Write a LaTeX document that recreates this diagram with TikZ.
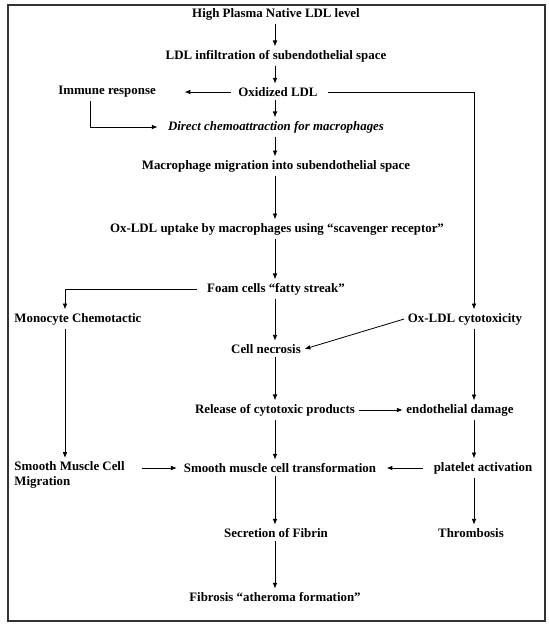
\documentclass[tikz,border=0pt]{standalone}
\usepackage{fontspec}
\setmainfont{Liberation Serif}
\usepackage{tikz}
\usetikzlibrary{arrows.meta}

\begin{document}
\begin{tikzpicture}[
				stage/.style={font=\fontsize{11}{13}\selectfont\bfseries, inner sep=3pt},
				emphstage/.style={stage, font=\fontsize{11}{13}\selectfont\bfseries\itshape},
				arr/.style={-{Latex[length=5pt,width=4pt]}, line width=0.7pt},
				frame/.style={line width=0.9pt, draw=black!80}
			]
			\useasboundingbox (0,0) rectangle (16.44,-18.84);
			% Frame
			\draw[frame] (0.24,-0.15) rectangle (16.35,-18.63);
			% Columns
			\coordinate (lc) at (1.95,0);
			\coordinate (mc) at (8.25,0);
			\coordinate (rc) at (14.22,0);
			\coordinate (ic) at (2.70,0);
			% Main column
			\node[stage] (high) at (8.28,-0.42) {High Plasma Native LDL level};
			\node[stage] (infil) at (8.28,-1.68) {LDL infiltration of subendothelial space};
			\node[stage] (oxid) at (8.34,-2.76) {Oxidized LDL};
			\node[emphstage] (direct) at (8.28,-3.81) {Direct chemoattraction for macrophages};
			\node[stage] (migr) at (8.28,-4.98) {Macrophage migration into subendothelial space};
			\node[stage] (uptake) at (8.31,-6.87) {Ox-LDL uptake by macrophages using ``scavenger receptor''};
			\node[stage] (foam) at (8.28,-8.67) {Foam cells ``fatty streak''};
			\node[stage] (necro) at (7.98,-10.47) {Cell necrosis};
			\node[stage] (release) at (8.25,-12.30) {Release of cytotoxic products};
			\node[stage] (trans) at (8.40,-14.04) {Smooth muscle cell transformation};
			\node[stage] (secr) at (8.28,-15.99) {Secretion of Fibrin};
			\node[stage] (fibro) at (8.25,-17.91) {Fibrosis ``atheroma formation''};
			% Left column
			\node[stage] (immune) at (3.21,-2.76) {Immune response};
			\node[stage, anchor=west] (mono) at (0.32,-9.57) {Monocyte Chemotactic};
			\node[stage, anchor=north west, align=left] (smcm) at (0.32,-13.74) {Smooth Muscle Cell\\Migration};
			% Right column
			\node[stage] (cyto) at (13.95,-9.57) {Ox-LDL cytotoxicity};
			\node[stage] (endo) at (13.80,-12.30) {endothelial damage};
			\node[stage] (plate) at (14.49,-14.04) {platelet activation};
			\node[stage] (thromb) at (14.13,-15.99) {Thrombosis};
			% Vertical arrows
			\foreach \a/\b in {high/infil, infil/oxid, oxid/direct, direct/migr, migr/uptake, uptake/foam, foam/necro, necro/release, release/trans, trans/secr, secr/fibro}
				\draw[arr] (\a.south -| mc) -- (\b.north -| mc);
			\foreach \a/\b in {cyto/endo, endo/plate, plate/thromb}
				\draw[arr] (\a.south -| rc) -- (\b.north -| rc);
			\draw[arr] (mono.south -| lc) -- (smcm.north -| lc);
			% Side branches
			\draw[arr, shorten <=0.1cm, shorten >=0.75cm] (oxid.west) -- (immune.east);
			\draw[arr, shorten >=0.2cm] (immune.south -| ic) |- (direct.west);
			\draw[arr, shorten <=0.2cm] (oxid.east) -| (cyto.north -| rc);
			\draw[arr, shorten <=0.2cm] (foam.west) -| (mono.north -| lc);
			\draw[arr] (cyto.west) -- (necro.east);
			\draw[arr] (release.east) -- (endo.west);
			\draw[arr, shorten <=0.4cm, shorten >=0.1cm] (smcm.east |- trans.west) -- (trans.west);
			\draw[arr, shorten <=0.2cm, shorten >=0.2cm] (plate.west) -- (trans.east);
		\end{tikzpicture}
\end{document}
